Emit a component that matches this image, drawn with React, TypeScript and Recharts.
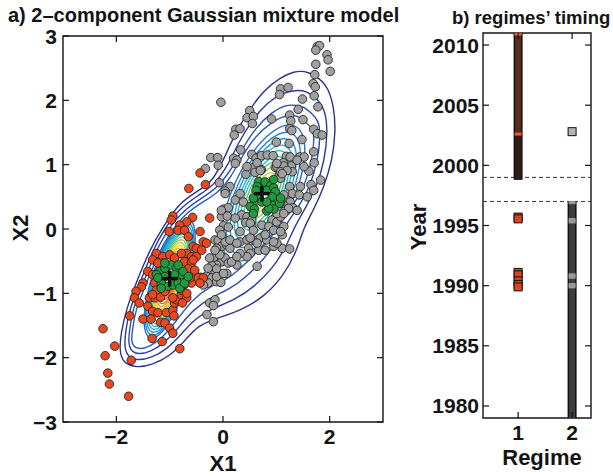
import React from 'react';
import {
  ComposedChart,
  Line,
  ReferenceArea,
  ReferenceLine,
  Scatter,
  XAxis,
  YAxis,
} from 'recharts';

const FONT = '"Liberation Sans", Arial, Helvetica, sans-serif';
const INK = '#141414';

// ---- panel a: data (X1, X2) ----
const grayPoints = [
  [1.77, 2.84], [1.81, 2.85], [1.74, 2.78], [1.95, 2.71], [1.97, 2.63], [2.01, 2.45], [1.74, 2.56],
  [1.72, 2.4], [1.69, 2.26], [1.73, 2.21], [1.08, 2.18], [1.22, 2.2], [1.06, 2.09], [1.71, 2.07],
  [1.49, 2.02], [1.78, 1.9], [-0.04, 1.97], [0.5, 1.84], [1.41, 1.86], [0.45, 1.73], [0.57, 1.75],
  [0.55, 1.64], [0.91, 1.71], [1.25, 1.77], [1.27, 1.68], [1.25, 1.56], [1.29, 1.53], [1.5, 1.7],
  [1.7, 1.55], [1.77, 1.48], [1.86, 1.46], [0.24, 1.55], [0.32, 1.56], [0.21, 1.46], [1.48, 1.39],
  [1.24, 1.33], [1.0, 1.35], [0.33, 1.23], [-0.23, 1.11], [-0.1, 1.11], [-0.09, 0.99], [-0.33, 0.94],
  [0.2, 1.1], [0.26, 1.07], [0.23, 1.02], [0.54, 1.16], [0.62, 1.1], [0.72, 1.14], [0.83, 1.15],
  [0.94, 1.14], [0.57, 0.96], [0.64, 1.03], [0.72, 0.92], [1.19, 1.13], [1.13, 1.03], [1.28, 0.98],
  [1.44, 1.12], [1.52, 1.12], [1.7, 1.2], [1.71, 1.03], [1.61, 0.9], [0.43, 0.85], [0.98, 0.96],
  [1.06, 0.85], [1.08, 0.79], [-0.07, 0.72], [0.13, 0.66], [0.04, 0.59], [1.25, 0.66], [1.45, 0.66],
  [1.65, 0.69], [1.83, 0.76], [1.3, 0.55], [1.2, 0.45], [1.43, 0.53], [1.58, 0.5], [1.7, 0.6],
  [0.23, 0.45], [0.38, 0.42], [0.32, 0.55], [0.01, 0.31], [0.1, 0.33], [1.18, 0.37], [1.26, 0.42],
  [1.31, 0.33], [1.39, 0.29], [0.45, 0.97], [0.6, 0.88], [1.01, 0.97], [1.14, 0.98], [1.08, 0.89],
  [1.3, 0.89], [1.14, 0.53], [1.14, 0.37], [1.2, 0.29], [0.35, 0.22], [0.45, 0.19], [0.57, 0.23],
  [0.92, 0.14], [1.01, 0.11], [1.08, 0.19], [1.14, 0.27], [1.01, 0.24], [0.73, 0.06], [0.86, 0.04],
  [0.95, -0.02], [1.11, -0.09], [1.14, 0.04], [0.32, -0.2], [0.45, -0.17], [0.57, -0.17], [0.7, -0.14],
  [0.82, -0.17], [0.48, -0.3], [0.67, -0.33], [0.79, -0.33], [0.95, -0.27], [1.11, -0.3], [1.25, -0.31],
  [0.64, -0.58], [0.43, 0.1], [0.54, 0.06], [-0.03, 0.19], [0.08, 0.2], [0.01, 0.05], [0.1, 0.03],
  [0.23, 0.17], [-0.15, -0.17], [-0.09, -0.18], [-0.03, -0.27], [0.07, -0.25], [0.13, -0.3],
  [-0.12, -0.3], [0.51, -0.38], [0.45, -0.43], [0.32, -0.38], [-0.09, -0.43], [-0.03, -0.51],
  [0.04, -0.45], [0.1, -0.53], [0.26, -0.56], [0.16, -0.51], [-0.18, -0.45], [-0.06, -0.4],
  [-0.12, -0.56], [-0.21, -0.57], [0.07, -0.69], [-0.15, -0.69], [-0.31, -0.73], [-0.21, -0.76],
  [-0.12, -0.82], [-0.04, -0.83], [-0.28, -0.84], [-0.37, -0.87], [-0.25, -1.15], [-0.15, -1.1],
  [-0.18, -1.19], [-0.3, -1.33], [-0.18, -1.44], [0.04, -0.2], [0.13, -0.17], [1.01, -0.22],
  [-0.06, -0.02], [-0.03, -0.09], [-0.15, -0.33], [-0.25, -0.45], [-0.12, -0.62], [-0.28, -0.61],
  [-0.12, -0.74], [0.32, -0.04], [0.54, 0.14], [0.79, -0.09], [0.95, -0.2], [1.08, -0.04],
  [0.26, -0.22], [0.51, 0.09], [0.57, -0.02], [0.51, -0.14], [0.64, -0.22], [0.26, -0.43],
  [-0.03, 0.29], [0.01, -0.69], [1.01, 1.02], [1.26, 1.12], [1.39, 1.07], [1.52, 0.97], [1.2, 0.91],
  [1.11, 0.86], [0.7, 0.91], [1.08, 0.4], [1.23, 0.32], [1.14, 0.24], [0.04, 0.55],
];

const redPoints = [
  [-0.43, 0.87], [-0.33, 0.69], [-0.64, 0.63], [-0.94, 0.2], [-0.57, 0.18], [-0.25, 0.17], [-0.97, 0.14],
  [-0.68, 0.11], [-0.81, 0.06], [-1.01, -0.04], [-0.84, -0.02], [-0.72, -0.02], [-0.65, -0.12],
  [-0.43, -0.04], [-0.37, -0.2], [-0.31, -0.22], [-0.56, -0.27], [-0.5, -0.3], [-0.68, -0.38],
  [-0.59, -0.43], [-0.4, -0.33], [-1.25, -0.38], [-1.13, -0.43], [-1.0, -0.4], [-0.91, -0.45],
  [-1.13, -0.53], [-1.32, -0.48], [-0.78, -0.38], [-1.22, -0.53], [-0.72, -0.51], [-0.59, -0.52],
  [-1.41, -0.66], [-1.32, -0.71], [-1.16, -0.79], [-1.28, -0.84], [-0.65, -0.62], [-0.53, -0.64],
  [-0.43, -0.75], [-1.5, -0.84], [-1.53, -0.9], [-1.63, -0.97], [-1.66, -1.07], [-1.57, -1.15],
  [-1.38, -1.07], [-1.28, -1.07], [-1.17, -1.06], [-1.41, -1.2], [-1.32, -1.28], [-1.22, -1.3],
  [-1.06, -1.3], [-0.94, -1.26], [-0.91, -1.15], [-0.87, -1.1], [-0.78, -1.02], [-0.68, -1.07],
  [-0.76, -1.15], [-1.5, -1.4], [-1.35, -1.4], [-1.17, -1.45], [-1.09, -1.46], [-1.0, -1.54],
  [-0.94, -1.62], [-0.92, -1.35], [-1.75, -1.35], [-1.33, -1.7], [-1.14, -1.75], [-0.81, -1.86],
  [-2.25, -1.55], [-2.03, -1.82], [-1.72, -2.04], [-2.21, -1.97], [-2.16, -2.24], [-2.13, -2.41],
  [-1.77, -2.6], [-0.59, -0.84], [-0.78, -0.95], [-0.72, -0.86], [-0.94, -1.07], [-1.25, -0.95],
  [-1.09, -0.97], [-0.5, -0.43], [-0.56, -0.48], [-0.47, -0.76], [-0.37, -0.76], [-0.43, -0.84],
  [-0.68, -1.0], [-0.62, -0.76], [-1.32, -1.02],
];

const greenPoints = [
  [0.67, 0.74], [0.79, 0.73], [0.89, 0.67], [0.64, 0.66], [0.82, 0.6], [0.95, 0.64], [0.56, 0.37],
  [0.51, 0.35], [0.59, 0.31], [0.98, 0.45], [1.06, 0.4], [0.91, 0.37], [0.82, 0.28], [0.68, 0.48],
  [0.95, 0.77], [0.62, 0.6], [0.98, 0.58], [1.08, 0.48], [0.95, 0.31], [0.57, 0.24], [0.73, 0.42],
  [0.86, 0.32], [0.57, 0.48], [0.92, 0.5], [0.82, 0.42],
  [-1.19, -0.66], [-1.09, -0.61], [-0.97, -0.56], [-0.87, -0.61], [-0.78, -0.71], [-1.09, -0.74],
  [-1.16, -0.84], [-1.03, -0.89], [-0.94, -0.87], [-0.84, -0.84], [-0.91, -0.71], [-1.25, -0.71],
  [-1.09, -0.53], [-0.84, -0.56], [-0.75, -0.66], [-1.22, -0.76], [-0.81, -0.92], [-0.72, -0.84],
  [-0.65, -0.74], [-1.16, -0.92],
];

const componentMeans = [
  [0.73, 0.55],
  [-1.0, -0.77],
];

// contour levels, outermost first (jet-like colour map)
const levelColors = [
  '#2e3192', '#2e3a9e', '#2b48ac', '#2a5cbc', '#2770c8', '#2385d3', '#1f9bdb', '#1eafd8', '#22bcc6',
  '#36c1a6', '#5ec585', '#8fcb62', '#c0d245', '#eed62c', '#f6bf22', '#f39b22', '#ee7424', '#e75124',
  '#dc3624', '#c4281f',
];

// levels 1-4: enclose both components
const sharedContours = [
  [
    [1.579, 2.465], [1.957, 2.264], [2.081, 1.891], [2.113, 1.535], [2.051, 1.07], [1.892, 0.651],
    [1.698, 0.295], [1.509, 0.016], [1.377, -0.357], [1.132, -0.729], [0.774, -1.054], [0.321, -1.271],
    [-0.151, -1.395], [-0.472, -1.504], [-0.698, -1.721], [-1.0, -1.98], [-1.321, -2.109], [-1.623, -2.16],
    [-1.881, -2.082], [-1.943, -1.876], [-1.911, -1.612], [-1.817, -1.256], [-1.628, -0.837],
    [-1.377, -0.326], [-1.126, 0.031], [-0.811, 0.419], [-0.434, 0.605], [-0.183, 0.76], [0.006, 1.07],
    [0.194, 1.426], [0.447, 1.798], [0.76, 2.155], [1.075, 2.357], [1.326, 2.45],
  ],
  [
    [1.547, 2.155], [1.792, 2.016], [1.925, 1.814], [1.962, 1.504], [1.906, 1.07], [1.755, 0.651],
    [1.547, 0.326], [1.358, 0.062], [1.189, -0.264], [0.943, -0.605], [0.585, -0.899], [0.226, -1.101],
    [-0.17, -1.225], [-0.509, -1.38], [-0.774, -1.628], [-1.057, -1.876], [-1.34, -2.0], [-1.604, -2.047],
    [-1.792, -1.984], [-1.849, -1.829], [-1.83, -1.597], [-1.755, -1.256], [-1.566, -0.853],
    [-1.33, -0.357], [-1.104, 0.0], [-0.774, 0.357], [-0.415, 0.543], [-0.151, 0.698], [0.094, 0.992],
    [0.283, 1.333], [0.528, 1.674], [0.83, 1.969], [1.132, 2.124], [1.358, 2.155],
  ],
  [
    [1.509, 1.907], [1.66, 1.798], [1.792, 1.69], [1.83, 1.457], [1.774, 1.054], [1.623, 0.636],
    [1.415, 0.341], [1.208, 0.109], [1.019, -0.186], [0.755, -0.481], [0.415, -0.76], [0.132, -0.93],
    [-0.208, -1.054], [-0.566, -1.256], [-0.83, -1.535], [-1.113, -1.783], [-1.358, -1.907],
    [-1.585, -1.953], [-1.736, -1.891], [-1.774, -1.767], [-1.755, -1.581], [-1.698, -1.256],
    [-1.509, -0.868], [-1.283, -0.388], [-1.057, -0.031], [-0.736, 0.295], [-0.396, 0.481],
    [-0.113, 0.636], [0.151, 0.915], [0.358, 1.24], [0.604, 1.566], [0.906, 1.814], [1.189, 1.938],
    [1.377, 1.922],
  ],
  [
    [1.472, 1.721], [1.566, 1.643], [1.679, 1.566], [1.717, 1.411], [1.66, 1.039], [1.509, 0.62],
    [1.302, 0.357], [1.094, 0.14], [0.887, -0.124], [0.604, -0.388], [0.283, -0.651], [0.057, -0.791],
    [-0.226, -0.884], [-0.585, -1.101], [-0.868, -1.426], [-1.151, -1.705], [-1.377, -1.829],
    [-1.566, -1.876], [-1.698, -1.814], [-1.717, -1.721], [-1.698, -1.566], [-1.642, -1.256],
    [-1.453, -0.884], [-1.236, -0.419], [-1.0, -0.062], [-0.698, 0.248], [-0.377, 0.419],
    [-0.075, 0.574], [0.151, 0.806], [0.358, 1.132], [0.604, 1.442], [0.925, 1.674], [1.226, 1.783],
    [1.396, 1.752],
  ],
];

// levels 5-14 around the upper component
const upperContours = [
  [[1.41, 1.712], [1.615, 1.221], [1.317, 0.342], [0.689, -0.411], [0.1, -0.596], [-0.105, -0.105], [0.193, 0.774], [0.821, 1.527]],
  [[1.34, 1.588], [1.523, 1.15], [1.256, 0.366], [0.695, -0.306], [0.17, -0.472], [-0.013, -0.034], [0.254, 0.75], [0.815, 1.422]],
  [[1.278, 1.478], [1.442, 1.086], [1.203, 0.386], [0.702, -0.214], [0.232, -0.362], [0.068, 0.03], [0.307, 0.73], [0.808, 1.33]],
  [[1.215, 1.369], [1.359, 1.024], [1.15, 0.406], [0.709, -0.122], [0.295, -0.253], [0.151, 0.092], [0.36, 0.71], [0.801, 1.238]],
  [[1.163, 1.276], [1.29, 0.971], [1.104, 0.424], [0.714, -0.045], [0.347, -0.16], [0.22, 0.145], [0.406, 0.692], [0.796, 1.161]],
  [[1.109, 1.182], [1.22, 0.916], [1.059, 0.441], [0.72, 0.034], [0.401, -0.066], [0.29, 0.2], [0.451, 0.675], [0.79, 1.082]],
  [[1.056, 1.088], [1.15, 0.863], [1.013, 0.459], [0.724, 0.113], [0.454, 0.028], [0.36, 0.253], [0.497, 0.657], [0.786, 1.003]],
  [[1.003, 0.995], [1.08, 0.81], [0.967, 0.477], [0.73, 0.192], [0.507, 0.121], [0.43, 0.306], [0.543, 0.639], [0.78, 0.924]],
  [[0.95, 0.901], [1.011, 0.756], [0.922, 0.494], [0.735, 0.27], [0.56, 0.215], [0.499, 0.36], [0.588, 0.622], [0.775, 0.846]],
  [[0.906, 0.824], [0.952, 0.711], [0.883, 0.509], [0.738, 0.335], [0.604, 0.292], [0.558, 0.405], [0.627, 0.607], [0.772, 0.781]],
];

// levels 5-20 around the lower component
const lowerContours = [
  [[-0.599, 0.239], [-0.471, -0.123], [-0.654, -0.867], [-1.039, -1.557], [-1.401, -1.789], [-1.529, -1.427], [-1.346, -0.683], [-0.961, 0.007]],
  [[-0.618, 0.19], [-0.497, -0.155], [-0.671, -0.863], [-1.037, -1.519], [-1.382, -1.74], [-1.503, -1.395], [-1.329, -0.687], [-0.963, -0.031]],
  [[-0.638, 0.141], [-0.523, -0.186], [-0.688, -0.858], [-1.035, -1.482], [-1.362, -1.691], [-1.477, -1.364], [-1.312, -0.692], [-0.965, -0.068]],
  [[-0.657, 0.092], [-0.549, -0.218], [-0.704, -0.854], [-1.033, -1.444], [-1.343, -1.642], [-1.451, -1.332], [-1.296, -0.696], [-0.967, -0.106]],
  [[-0.676, 0.043], [-0.574, -0.25], [-0.721, -0.85], [-1.032, -1.406], [-1.324, -1.593], [-1.426, -1.3], [-1.279, -0.7], [-0.968, -0.144]],
  [[-0.696, -0.006], [-0.6, -0.28], [-0.738, -0.845], [-1.03, -1.368], [-1.304, -1.544], [-1.4, -1.27], [-1.262, -0.705], [-0.97, -0.182]],
  [[-0.715, -0.055], [-0.625, -0.312], [-0.755, -0.841], [-1.027, -1.33], [-1.285, -1.495], [-1.375, -1.238], [-1.245, -0.709], [-0.973, -0.22]],
  [[-0.735, -0.104], [-0.65, -0.344], [-0.771, -0.836], [-1.026, -1.292], [-1.265, -1.446], [-1.35, -1.206], [-1.229, -0.714], [-0.974, -0.258]],
  [[-0.754, -0.153], [-0.676, -0.375], [-0.788, -0.832], [-1.024, -1.255], [-1.246, -1.397], [-1.324, -1.175], [-1.212, -0.718], [-0.976, -0.295]],
  [[-0.774, -0.202], [-0.702, -0.407], [-0.805, -0.827], [-1.022, -1.217], [-1.226, -1.348], [-1.298, -1.143], [-1.195, -0.723], [-0.978, -0.333]],
  [[-0.793, -0.251], [-0.728, -0.439], [-0.821, -0.823], [-1.02, -1.179], [-1.207, -1.299], [-1.272, -1.111], [-1.179, -0.727], [-0.98, -0.371]],
  [[-0.812, -0.301], [-0.753, -0.471], [-0.838, -0.818], [-1.019, -1.141], [-1.188, -1.249], [-1.247, -1.079], [-1.162, -0.732], [-0.981, -0.409]],
  [[-0.832, -0.35], [-0.778, -0.501], [-0.855, -0.814], [-1.016, -1.103], [-1.168, -1.2], [-1.222, -1.049], [-1.145, -0.736], [-0.984, -0.447]],
  [[-0.858, -0.415], [-0.812, -0.544], [-0.877, -0.808], [-1.014, -1.052], [-1.142, -1.135], [-1.188, -1.006], [-1.123, -0.742], [-0.986, -0.498]],
  [[-0.884, -0.481], [-0.847, -0.586], [-0.9, -0.802], [-1.011, -1.002], [-1.116, -1.069], [-1.153, -0.964], [-1.1, -0.748], [-0.989, -0.548]],
  [[-0.909, -0.546], [-0.881, -0.628], [-0.922, -0.796], [-1.009, -0.952], [-1.091, -1.004], [-1.119, -0.922], [-1.078, -0.754], [-0.991, -0.598]],
];

const xTicksA = [-2, 0, 2];
const yTicksA = [-3, -2, -1, 0, 1, 2, 3];

// ---- panel b: regimes' timing ----
const regime1Upper = [2002.6, 2011];
const regime1Lower = [1998.8, 2002.6];
const regime2Span = [1979, 1997];
const regime1Isolated = [1995.7, 1995.55, 1991.1, 1990.9, 1990.4, 1990.1, 1989.9];
const regime1Marks = [2010.9, 2002.6];
const regime2Isolated = [2002.8];
const regime2Marks = [1996.9, 1995.5, 1995.3, 1990.9, 1990.7, 1990.1, 1989.9];
const switchYears = [1999, 1997];
const regimeTicks = [1, 2];
const yearTicks = [1980, 1985, 1990, 1995, 2000, 2005, 2010];

// layout of the two plot boxes (each in its own chart's pixels)
const A_W = 400;
const A_LEFT = 63;
const A_RIGHT = 383;
const A_TOP = 36;
const A_BOTTOM = 422;
const B_X = 400;
const B_W = 213;
const B_LEFT = 83;
const B_RIGHT = 191;
const B_TOP = 33;
const B_BOTTOM = 418;

const toXY = (pts: number[][]) => pts.map(([x, y]) => ({ x, y }));
const fmt = (v: number) => (v < 0 ? `\u2212${Math.abs(v)}` : String(v));

const tickText = {
  fontFamily: FONT,
  fontWeight: 700,
  fontSize: 21,
  fill: INK,
};

function makeXTick(top: number, bottom: number) {
  return (props: any) => {
    const { x, payload } = props;
    return (
      <g>
        <line x1={x} x2={x} y1={bottom} y2={bottom - 6} stroke={INK} strokeWidth={1.2} />
        <line x1={x} x2={x} y1={top} y2={top + 6} stroke={INK} strokeWidth={1.2} />
        <text x={x} y={bottom + 22} textAnchor="middle" {...tickText}>
          {fmt(payload.value)}
        </text>
      </g>
    );
  };
}

function makeYTick(left: number, right: number, gap: number) {
  return (props: any) => {
    const { y, payload } = props;
    return (
      <g>
        <line x1={left} x2={left + 6} y1={y} y2={y} stroke={INK} strokeWidth={1.2} />
        <line x1={right} x2={right - 6} y1={y} y2={y} stroke={INK} strokeWidth={1.2} />
        <text x={left - gap} y={y} dy={7.5} textAnchor="end" {...tickText}>
          {fmt(payload.value)}
        </text>
      </g>
    );
  };
}

const dot = (fill: string) => (props: any) => (
  <circle cx={props.cx} cy={props.cy} r={4.3} fill={fill} stroke="#262626" strokeWidth={0.9} />
);

const cross = (props: any) => (
  <g stroke="#111" strokeWidth={3.4}>
    <line x1={props.cx - 8} x2={props.cx + 8} y1={props.cy} y2={props.cy} />
    <line x1={props.cx} x2={props.cx} y1={props.cy - 8} y2={props.cy + 8} />
  </g>
);

const square = (fill: string) => (props: any) => (
  <rect x={props.cx - 4} y={props.cy - 4} width={8} height={8} fill={fill} stroke="#111" strokeWidth={1} />
);

const mark = (fill: string) => (props: any) => (
  <rect x={props.cx - 3.5} y={props.cy - 1.5} width={7} height={3} fill={fill} />
);

function contourLine(pts: number[][], color: string, key: string) {
  return (
    <Line
      key={key}
      data={toXY(pts)}
      dataKey="y"
      type="basisClosed"
      stroke={color}
      strokeWidth={1.4}
      dot={false}
      activeDot={false}
      isAnimationActive={false}
    />
  );
}

function span(x: number, ys: number[]) {
  return ys.map((y) => ({ x, y }));
}

function barLine(data: { x: number; y: number }[], color: string, width: number) {
  return (
    <Line
      data={data}
      dataKey="y"
      stroke={color}
      strokeWidth={width}
      dot={false}
      activeDot={false}
      isAnimationActive={false}
    />
  );
}

export default function App() {
  return (
    <div style={{ position: 'absolute', left: 0, top: 0, width: 613, height: 476, background: '#fff' }}>
      <div style={{ position: 'absolute', left: 0, top: 0 }}>
        <ComposedChart
          width={A_W}
          height={476}
          margin={{ top: A_TOP, right: A_W - A_RIGHT, bottom: 0, left: 3 }}
        >
          <XAxis
            type="number"
            dataKey="x"
            domain={[-3, 3]}
            ticks={xTicksA}
            interval={0}
            allowDataOverflow
            height={476 - A_BOTTOM}
            axisLine={false}
            tickLine={false}
            tickSize={0}
            tickMargin={0}
            tick={makeXTick(A_TOP, A_BOTTOM)}
          />
          <YAxis
            type="number"
            dataKey="y"
            domain={[-3, 3]}
            ticks={yTicksA}
            interval={0}
            allowDataOverflow
            width={A_LEFT - 3}
            axisLine={false}
            tickLine={false}
            tickSize={0}
            tickMargin={0}
            tick={makeYTick(A_LEFT, A_RIGHT, 6)}
          />
          {sharedContours.map((c, i) => contourLine(c, levelColors[i], `s${i}`))}
          {upperContours.map((c, i) => contourLine(c, levelColors[i + 4], `u${i}`))}
          {lowerContours.map((c, i) => contourLine(c, levelColors[i + 4], `l${i}`))}
          <Scatter data={toXY(grayPoints)} shape={dot('#a0a0a0')} isAnimationActive={false} />
          <Scatter data={toXY(redPoints)} shape={dot('#e9481e')} isAnimationActive={false} />
          <Scatter data={toXY(greenPoints)} shape={dot('#1e9b3c')} isAnimationActive={false} />
          <Scatter data={toXY(componentMeans)} shape={cross} isAnimationActive={false} />
          <ReferenceArea x1={-3} x2={3} y1={-3} y2={3} fill="none" stroke={INK} strokeWidth={1.4} />
        </ComposedChart>
      </div>

      <div style={{ position: 'absolute', left: B_X, top: 0 }}>
        <ComposedChart
          width={B_W}
          height={476}
          margin={{ top: B_TOP, right: B_W - B_RIGHT, bottom: 0, left: 3 }}
        >
          <XAxis
            type="number"
            dataKey="x"
            domain={[0.35, 2.35]}
            ticks={regimeTicks}
            interval={0}
            allowDataOverflow
            height={476 - B_BOTTOM}
            axisLine={false}
            tickLine={false}
            tickSize={0}
            tickMargin={0}
            tick={makeXTick(B_TOP, B_BOTTOM)}
          />
          <YAxis
            type="number"
            dataKey="y"
            domain={[1979, 2011]}
            ticks={yearTicks}
            interval={0}
            allowDataOverflow
            width={B_LEFT - 3}
            axisLine={false}
            tickLine={false}
            tickSize={0}
            tickMargin={0}
            tick={makeYTick(B_LEFT, B_RIGHT, 4)}
          />
          {switchYears.map((y) => (
            <ReferenceLine key={y} y={y} stroke="#333" strokeWidth={1} strokeDasharray="4 3" />
          ))}
          {barLine(span(1, [regime1Lower[0], regime1Upper[1]]), '#111', 9)}
          {barLine(span(1, regime1Upper), '#5a2a1c', 6)}
          {barLine(span(1, regime1Lower), '#2f1d18', 6)}
          {barLine(span(2, regime2Span), '#111', 9)}
          {barLine(span(2, regime2Span), '#3e3e3e', 6)}
          <Scatter data={span(1, regime1Isolated)} shape={square('#d9461e')} isAnimationActive={false} />
          <Scatter data={span(1, regime1Marks)} shape={mark('#f05a28')} isAnimationActive={false} />
          <Scatter data={span(2, regime2Isolated)} shape={square('#b4b4b4')} isAnimationActive={false} />
          <Scatter data={span(2, regime2Marks)} shape={mark('#9a9a9a')} isAnimationActive={false} />
          <ReferenceArea x1={0.35} x2={2.35} y1={1979} y2={2011} fill="none" stroke={INK} strokeWidth={1.4} />
        </ComposedChart>
      </div>

      <svg
        width={613}
        height={476}
        style={{ position: 'absolute', left: 0, top: 0, pointerEvents: 'none' }}
        fontFamily={FONT}
        fontWeight={700}
        fill={INK}
      >
        <text x={8} y={22} fontSize={20}>a) 2–component Gaussian mixture model</text>
        <text x={452} y={24} fontSize={18.5}>b) regimes’ timing</text>
        <text x={223} y={471} fontSize={22} textAnchor="middle">X1</text>
        <text transform="translate(28,228) rotate(-90)" fontSize={22} textAnchor="middle">X2</text>
        <text x={542} y={465} fontSize={22} textAnchor="middle">Regime</text>
        <text transform="translate(426,227) rotate(-90)" fontSize={22} textAnchor="middle">Year</text>
      </svg>
    </div>
  );
}
